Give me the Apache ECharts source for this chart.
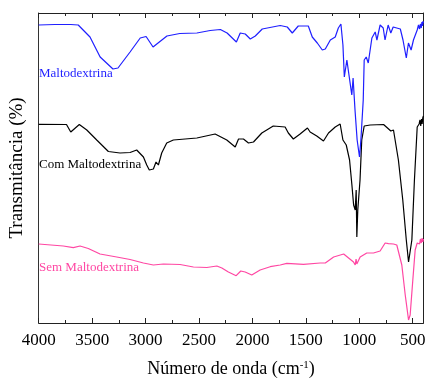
<!DOCTYPE html>
<html>
<head>
<meta charset="utf-8">
<script src="https://cdn.jsdelivr.net/npm/echarts@6/dist/echarts.min.js"></script>
<style>html,body{margin:0;padding:0;background:#fff}#c{width:427px;height:378px}</style>
</head>
<body>
<div id="c"></div>
<script>
// Wavenumber (cm-1) and transmittance (arbitrary, offset)
var maltoWn = [4000,3850,3700,3630,3520,3425,3305,3258,3145,3050,2995,2930,2883,2800,2680,2520,2395,2300,2237,2150,2114,2067,2020,1973,1908,1740,1674,1627,1571,1477,1440,1393,1346,1318,1271,1225,1196,1172,1153,1140,1116,1103,1070,1058,1040,1020,998,985,963,954,935,916,882,851,835,805,776,759,730,705,683,616,591,560,540,515,493,458,446,436,428,420,414,408,403,400];
var maltoT  = [298,298.5,298.5,298,286,266,254,255,271,285,286.5,276,280,287,289.5,290,292.5,293.5,290,281,290,289,284,287,294,297.5,296,290,297,297,286,280,273,274,283,286,295,299,278,246,263,253,228,245,213,183,166,183,223,263,266,260,285,291,283,298,295,283,298,290,296,294,283,265,280,273,283,293,298,294,299,295,301,297,302,300];

var comWn = [4000,3740,3700,3682,3620,3550,3457,3348,3239,3145,3083,3020,2989,2965,2927,2902,2880,2849,2833,2802,2740,2520,2349,2240,2161,2130,2084,2037,1990,1912,1805,1694,1664,1617,1554,1485,1460,1398,1335,1288,1225,1179,1153,1122,1091,1069,1053,1038,1029,1023,1014,993,977,954,898,773,736,705,680,634,593,560,539,508,484,458,440,432,425,418,412,406,400];
var comT  = [198.7,198.5,191,193,198.5,193,183,171.5,170,170.5,173,166,158,153,154,161,158,170,168,180,183,185,189,183,176,184,184,180,181,190,197,196,190,184,189,195,191,187,182,190,196,199,183,178,163,138,118,113,133,86,113,143,183,197,198,198.5,195,192,193,163,123,83,61,83,143,196,199,203,197,204,199,205,207];

var semWn = [4000,3770,3676,3613,3536,3426,3270,3145,3020,2927,2833,2677,2552,2427,2333,2286,2225,2152,2109,2068,2006,1928,1834,1740,1678,1522,1366,1318,1240,1146,1100,1054,1038,1030,1023,992,930,867,805,758,727,680,649,602,570,539,524,499,477,458,444,436,428,420,412,405,400];
var semT  = [79,77,75.3,77,74.5,69,66,63.5,60,58,59,58.5,56,55.5,57,55,51,47.3,52,51,48,53,56.3,58,59.7,58.7,60,60,66,69,65,61,58,64,59,66,70,70,72,80,79.3,79,78,58,28,3,8,43,73,80,82,79,84,80,85,81,84];

var majorTicks = [500,1000,1500,2000,2500,3000,3500,4000];
var minorTicks = [750,1250,1750,2250,2750,3250,3750];
var seriesNames = ['Maltodextrina','Com Maltodextrina','Sem Maltodextrina'];
var colors = ['#1f1fff','#000000','#ff47a3'];

function pairs(xs, ys){ return xs.map(function(x,i){ return [x, ys[i]]; }); }

var FONT = 'Liberation Serif';
var chart = echarts.init(document.getElementById('c'), null, {renderer:'canvas'});

function xAx(pos, ticks, len, showLabel, showLine){
  return {
    type:'value', position:pos, min:400, max:4000, inverse:true,
    axisLine:{show:showLine, onZero:false, lineStyle:{color:'#222', width:1}},
    axisTick:{show:true, inside:true, length:len, customValues:ticks, lineStyle:{color:'#222', width:1}},
    axisLabel:{show:showLabel, customValues:ticks, fontFamily:FONT, fontSize:17, color:'#000', margin:9,
      formatter:function(v){ return String(v); }},
    splitLine:{show:false}
  };
}
var xAxes = [xAx('bottom', majorTicks, 5, true, true), xAx('bottom', minorTicks, 3, false, false),
             xAx('top', majorTicks, 5, false, true), xAx('top', minorTicks, 3, false, false)];
xAxes[0].name = 'Número de onda (cm{sup|-1})';
xAxes[0].nameLocation = 'middle';
xAxes[0].nameGap = 37;
xAxes[0].nameTextStyle = {fontFamily:FONT, fontSize:18, color:'#000', rich:{sup:{fontFamily:FONT, fontSize:11, color:'#000', verticalAlign:'top', padding:[0,0,8,0]}}};

var data = [pairs(maltoWn, maltoT), pairs(comWn, comT), pairs(semWn, semT)];

chart.setOption({
  animation:false,
  grid:{left:38.7, right:3.6, top:13, bottom:55, containLabel:false, outerBoundsMode:'none'},
  xAxis: xAxes,
  yAxis: [
    {type:'value', min:0, max:310, position:'left',
     axisLine:{show:true, lineStyle:{color:'#333', width:1}}, axisTick:{show:false}, axisLabel:{show:false}, splitLine:{show:false},
     name:'Transmitância (%)', nameLocation:'middle', nameGap:12,
     nameTextStyle:{fontFamily:FONT, fontSize:19, color:'#000'}},
    {type:'value', min:0, max:310, position:'right',
     axisLine:{show:true, lineStyle:{color:'#222', width:1}}, axisTick:{show:false}, axisLabel:{show:false}, splitLine:{show:false}}
  ],
  series: data.map(function(d,i){
    return {type:'line', name:seriesNames[i], data:d, showSymbol:false, symbol:'none',
      lineStyle:{color:colors[i], width:1.2}, xAxisIndex:0, yAxisIndex:0, z:3-i};
  }),
  graphic: [
    {type:'text', left:39, top:67, style:{text:seriesNames[0], font:'13px "Liberation Serif"', fill:colors[0]}},
    {type:'text', left:39, top:158, style:{text:seriesNames[1], font:'13px "Liberation Serif"', fill:colors[1]}},
    {type:'text', left:39, top:261, style:{text:seriesNames[2], font:'13px "Liberation Serif"', fill:colors[2]}}
  ]
});
</script>
</body>
</html>
